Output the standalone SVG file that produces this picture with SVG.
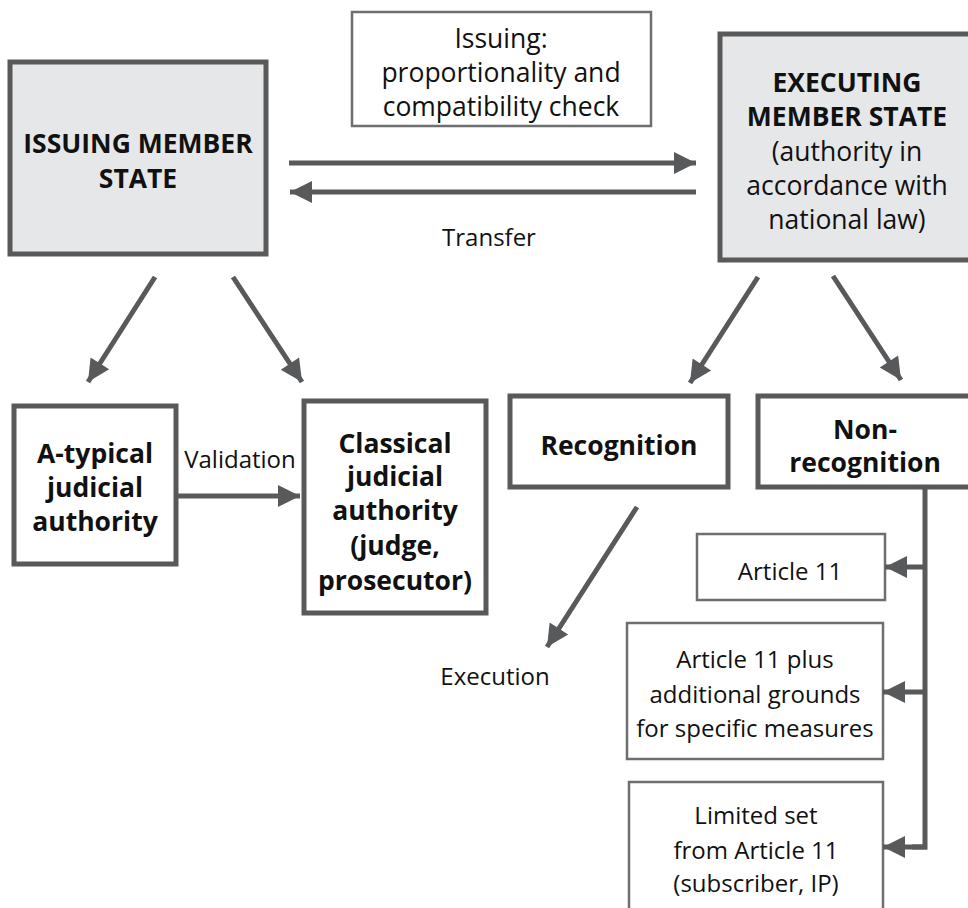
<svg xmlns="http://www.w3.org/2000/svg" width="968" height="908" viewBox="0 0 968 908">
  <defs>
    <marker id="head" viewBox="0 0 10 10" refX="10" refY="5" markerWidth="5.6" markerHeight="4.4" markerUnits="strokeWidth" orient="auto">
      <path d="M0,0 L10,5 L0,10 z" fill="#58595b"/>
    </marker>
    <style>
      .state { fill: #e6e7e8; stroke: #595959; stroke-width: 5; }
      .thick { fill: #ffffff; stroke: #595959; stroke-width: 5; }
      .thin { fill: #ffffff; stroke: #6d6e70; stroke-width: 2.5; }
      .conn { fill: none; stroke: #58595b; stroke-width: 5; }
      .arrow { fill: none; stroke: #58595b; stroke-width: 5; marker-end: url(#head); }
      text { font-family: "Open Sans", "Noto Sans", "Liberation Sans", sans-serif; fill: #111111; text-anchor: middle; }
      .b { font-weight: bold; font-size: 26.5px; }
      .big { font-size: 26.5px; }
      .r { font-size: 24px; }
    </style>
  </defs>

  <!-- Issuing member state -->
  <g id="issuing-state">
    <rect class="state" x="10" y="62" width="256" height="192"/>
    <text class="b" x="138" y="153">ISSUING MEMBER</text>
    <text class="b" x="138" y="188">STATE</text>
  </g>

  <!-- Check performed when issuing -->
  <g id="issuing-check">
    <rect class="thin" x="352" y="12" width="299" height="114"/>
    <text class="big" x="501" y="48">Issuing:</text>
    <text class="big" x="501" y="82">proportionality and</text>
    <text class="big" x="501" y="116">compatibility check</text>
  </g>

  <!-- Executing member state -->
  <g id="executing-state">
    <rect class="state" x="720" y="34" width="262" height="226"/>
    <text class="b" x="847" y="92">EXECUTING</text>
    <text class="b" x="847" y="126">MEMBER STATE</text>
    <text class="big" x="847" y="161">(authority in</text>
    <text class="big" x="847" y="195">accordance with</text>
    <text class="big" x="847" y="229">national law)</text>
  </g>

  <!-- Authorities on the issuing side -->
  <g id="atypical-authority">
    <rect class="thick" x="14" y="406" width="162" height="158"/>
    <text class="b" x="95" y="463">A-typical</text>
    <text class="b" x="95" y="497">judicial</text>
    <text class="b" x="95" y="531">authority</text>
  </g>

  <g id="classical-authority">
    <rect class="thick" x="304" y="401" width="182" height="212"/>
    <text class="b" x="395" y="453">Classical</text>
    <text class="b" x="395" y="486">judicial</text>
    <text class="b" x="395" y="520">authority</text>
    <text class="b" x="395" y="555">(judge,</text>
    <text class="b" x="395" y="590">prosecutor)</text>
  </g>

  <!-- Outcomes on the executing side -->
  <g id="recognition">
    <rect class="thick" x="510" y="396" width="218" height="91"/>
    <text class="b" x="619" y="455">Recognition</text>
  </g>

  <g id="non-recognition">
    <rect class="thick" x="758" y="396" width="220" height="91"/>
    <text class="b" x="865" y="439">Non-</text>
    <text class="b" x="865" y="472">recognition</text>
  </g>

  <g id="ground-article-11">
    <rect class="thin" x="697" y="534" width="188" height="66"/>
    <text class="r" x="790" y="580">Article 11</text>
  </g>

  <g id="ground-additional">
    <rect class="thin" x="627" y="623" width="256" height="136"/>
    <text class="r" x="755" y="668">Article 11 plus</text>
    <text class="r" x="755" y="703">additional grounds</text>
    <text class="r" x="755" y="737">for specific measures</text>
  </g>

  <g id="ground-limited">
    <rect class="thin" x="629" y="782" width="254" height="140"/>
    <text class="r" x="756" y="824">Limited set</text>
    <text class="r" x="756" y="859">from Article 11</text>
    <text class="r" x="756" y="892">(subscriber, IP)</text>
  </g>

  <!-- Free labels -->
  <g id="labels">
    <text class="r" x="489" y="246">Transfer</text>
    <text class="r" x="240" y="468">Validation</text>
    <text class="r" x="495" y="685">Execution</text>
  </g>

  <!-- Connectors -->
  <g id="connectors">
    <line class="arrow" x1="289" y1="163" x2="696" y2="163"/>
    <line class="arrow" x1="696" y1="192" x2="290" y2="192"/>
    <line class="arrow" x1="155" y1="277" x2="88" y2="382"/>
    <line class="arrow" x1="233" y1="277" x2="302" y2="382"/>
    <line class="arrow" x1="758" y1="277" x2="690" y2="383"/>
    <line class="arrow" x1="833" y1="276" x2="901" y2="380"/>
    <line class="arrow" x1="178" y1="496" x2="300" y2="496"/>
    <line class="arrow" x1="637" y1="507" x2="547" y2="647"/>
    <polyline class="conn" points="925,489 925,847 912,847"/>
    <line class="arrow" x1="927" y1="567" x2="885" y2="567"/>
    <line class="arrow" x1="927" y1="692" x2="883" y2="692"/>
    <line class="arrow" x1="927" y1="847" x2="883" y2="847"/>
  </g>
</svg>
